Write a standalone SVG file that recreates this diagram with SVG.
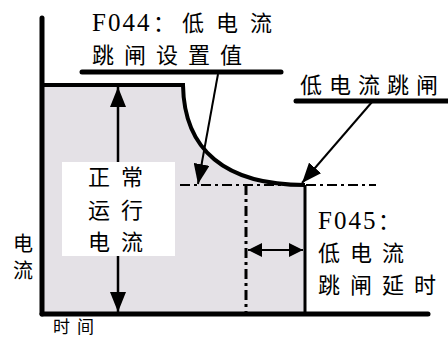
<svg xmlns="http://www.w3.org/2000/svg" width="448" height="338" viewBox="0 0 448 338">
<style>
.t{font-family:"Liberation Serif","Noto Sans CJK SC",serif;font-size:22px;fill:#000}
.lat{font-family:"Liberation Serif",serif;font-size:25px;letter-spacing:2px}
.ax{stroke:#000;stroke-width:5;fill:none;stroke-linecap:round}
.ln{stroke:#000;fill:none}
.dd{stroke:#000;fill:none;stroke-dasharray:10 4 3 4}
</style>
<defs>
<marker id="ah" viewBox="0 0 20 16" refX="20" refY="8" markerWidth="20" markerHeight="16" markerUnits="userSpaceOnUse" orient="auto-start-reverse"><path d="M0,0 L20,8 L0,16 z" fill="#000"/></marker>
<marker id="ah2" viewBox="0 0 14 14" refX="14" refY="7" markerWidth="14" markerHeight="14" markerUnits="userSpaceOnUse" orient="auto-start-reverse"><path d="M0,0 L14,7 L0,14 z" fill="#000"/></marker>
</defs>
<g id="region">
<path d="M42,85 L183,85 C184,150 225,185 305,185 L305,314 L42,314 Z" fill="#e4e1e6"/>
<rect x="62" y="162" width="113" height="94" fill="#fff"/>
</g>
<g id="axes">
<line class="ax" x1="42" y1="18" x2="42" y2="314"/>
<line class="ax" x1="42" y1="314" x2="428" y2="314"/>
</g>
<g id="curve">
<path class="ln" stroke-width="4" d="M42,85 L183,85 C184,150 225,185 305,185"/>
<line class="ln" stroke-width="3" x1="305" y1="185" x2="305" y2="314"/>
<line class="dd" stroke-width="2" x1="180" y1="185" x2="376" y2="185"/>
<line class="dd" stroke-width="3" x1="246" y1="185" x2="246" y2="314"/>
</g>
<g id="connectors">
<line class="ln" stroke-width="2.5" x1="118" y1="162" x2="118" y2="87" marker-end="url(#ah)"/>
<line class="ln" stroke-width="2.5" x1="118" y1="256" x2="118" y2="312" marker-end="url(#ah)"/>
<line class="ln" stroke-width="2" x1="218" y1="74" x2="198" y2="184" marker-end="url(#ah)"/>
<line class="ln" stroke-width="2" x1="372" y1="102" x2="302" y2="183" marker-end="url(#ah)"/>
<line class="ln" stroke-width="2" x1="248" y1="250" x2="303" y2="250" marker-start="url(#ah2)" marker-end="url(#ah2)"/>
</g>
<g id="label-f044">
<text class="t" x="92" y="31"><tspan class="lat">F044</tspan><tspan x="153">：</tspan><tspan x="182" letter-spacing="12">低电流</tspan></text>
<text class="t" x="92" y="63" letter-spacing="10">跳闸设置值</text>
<line class="ax" stroke-width="4.5" x1="82" y1="72" x2="281" y2="72"/>
</g>
<g id="label-trip">
<text class="t" x="300" y="93" letter-spacing="7">低电流跳闸</text>
<line class="ax" stroke-width="4.5" x1="296" y1="101" x2="452" y2="101"/>
</g>
<g id="label-normal">
<text class="t" x="88" y="185" letter-spacing="11">正常</text>
<text class="t" x="88" y="218" letter-spacing="11">运行</text>
<text class="t" x="88" y="250" letter-spacing="11">电流</text>
</g>
<g id="label-f045">
<text class="t" x="318" y="229"><tspan class="lat">F045</tspan><tspan x="378">：</tspan></text>
<text class="t" x="318" y="261" letter-spacing="10">低电流</text>
<text class="t" x="318" y="293" letter-spacing="10">跳闸延时</text>
</g>
<g id="axis-labels">
<text class="t" x="13" y="251" style="font-size:20px">电</text>
<text class="t" x="13" y="278" style="font-size:20px">流</text>
<text class="t" x="53" y="333" style="font-size:17px" letter-spacing="7">时间</text>
</g>
</svg>
